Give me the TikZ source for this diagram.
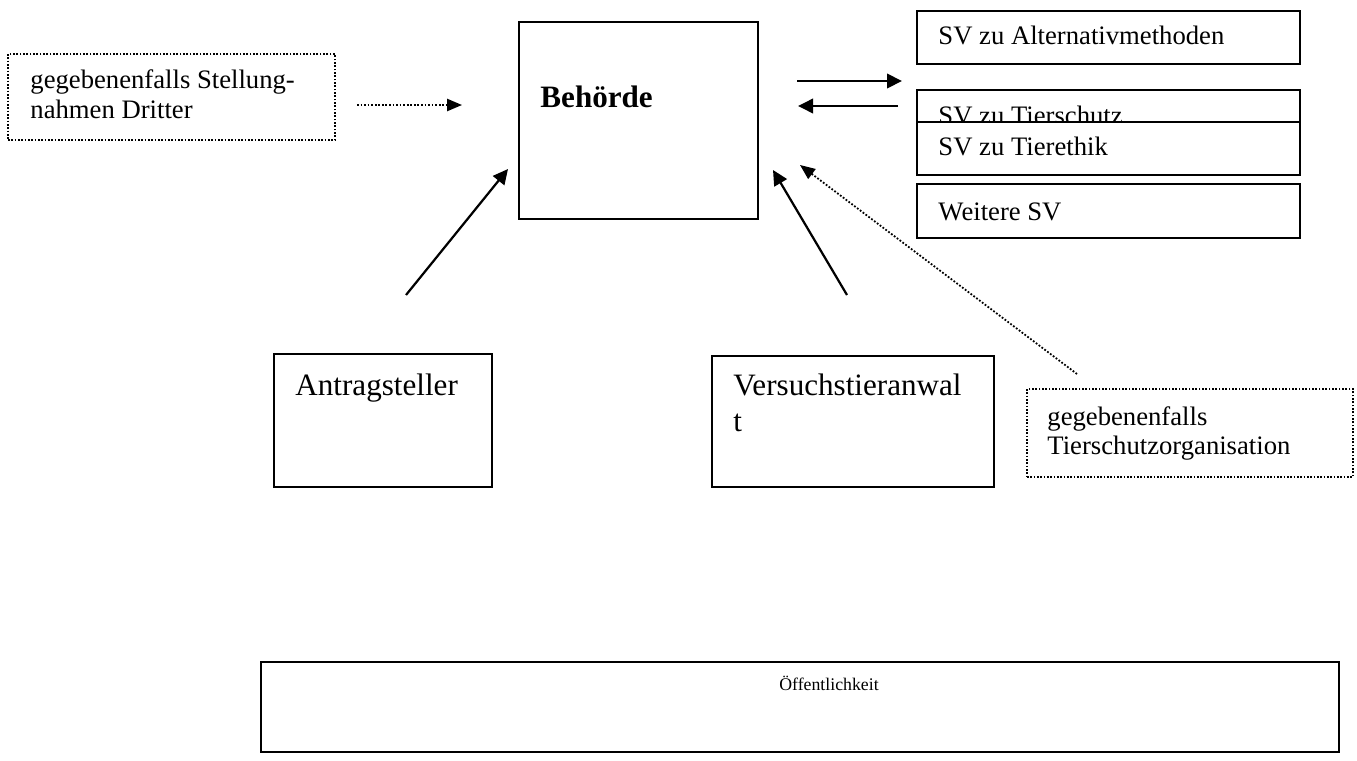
\documentclass[tikz,border=0pt]{standalone}
\usepackage{fontspec}
\setmainfont{Liberation Serif}
\usetikzlibrary{arrows.meta,fit}
\begin{document}
\begin{tikzpicture}[x=0.45pt,y=-0.45pt,
  box/.style={draw, line width=0.7pt, inner sep=0pt},
  dotbox/.style={draw, line width=0.75pt, dash pattern=on 0.75pt off 0.75pt, inner sep=0pt},
  txt/.style={anchor=base west, inner sep=0pt, font=\fontsize{12}{13.5}\selectfont},
  bigtxt/.style={anchor=base west, inner sep=0pt, font=\fontsize{14}{16.6}\selectfont},
  arr/.style={line width=1pt, -{Triangle[length=6.75pt,width=6.5pt]}},
  dotarr/.style={line width=0.8pt, dash pattern=on 0.8pt off 0.8pt, -{Triangle[length=6.75pt,width=5.5pt]}}]
\useasboundingbox (0,0) rectangle (1357,760);

% Stellungnahmen Dritter
\node[dotbox, fit={(8,54) (335,140)}] (stell) {};
\node[txt] (stelltxt) at (30,88) {\begin{tabular}[t]{@{}l@{}}gegebenenfalls Stellung-\\nahmen Dritter\end{tabular}};
\coordinate (stellA) at (357,105);
\coordinate (stellB) at (462,105);
\draw[dotarr] (stellA) -- (stellB);

% Behoerde
\node[box, fit={(519,22) (758,219)}] (beh) {};
\node[bigtxt, font=\fontsize{14}{16.6}\selectfont\bfseries] (behtxt) at (540,107) {Behörde};

% SV boxes
\node[box, fit={(917,11) (1300,64)}] (sv1) {};
\node[txt] (sv1txt) at (938,45) {SV zu Alternativmethoden};
\node[box, fit={(917,90) (1300,143)}] (sv2) {};
\node[txt] (sv2txt) at (938,124) {SV zu Tierschutz};
\node[box, fill=white, fit={(917,122) (1300,175)}] (sv3) {};
\node[txt] (sv3txt) at (938,155) {SV zu Tierethik};
\node[box, fit={(917,184) (1300,238)}] (sv4) {};
\node[txt] (sv4txt) at (938,220) {Weitere SV};

\coordinate (rA) at (797,81);
\coordinate (rB) at (902,81);
\coordinate (lA) at (898,106);
\coordinate (lB) at (798,106);
\draw[arr] (rA) -- (rB);
\draw[arr] (lA) -- (lB);

% Antragsteller
\node[box, fit={(274,354) (492,487)}] (antr) {};
\node[bigtxt] (antrtxt) at (295,395) {Antragsteller};
\coordinate (antrA) at (406,295);
\coordinate (antrB) at (508,169);
\draw[arr] (antrA) -- (antrB);

% Versuchstieranwalt
\node[box, fit={(712,356) (994,487)}] (vta) {};
\node[bigtxt] (vtatxt) at (733,395) {\fontsize{14}{16.6}\selectfont\begin{tabular}[t]{@{}l@{}}Versuchstieranwal\\t\end{tabular}};
\coordinate (vtaA) at (847,295);
\coordinate (vtaB) at (773,170);
\draw[arr] (vtaA) -- (vtaB);

% Tierschutzorganisation
\node[dotbox, fit={(1027,389) (1353,477)}] (tso) {};
\node[txt] (tsotxt) at (1047,425) {\fontsize{12}{13.1}\selectfont\begin{tabular}[t]{@{}l@{}}gegebenenfalls\\Tierschutzorganisation\end{tabular}};
\coordinate (tsoA) at (1077,374);
\coordinate (tsoB) at (800,165);
\draw[dotarr] (tsoA) -- (tsoB);

% Oeffentlichkeit
\node[box, line width=0.9pt, fit={(261,662) (1339,752)}] (oeff) {};
\node[anchor=base, inner sep=0pt, font=\fontsize{8}{9.6}\selectfont] (oefftxt) at (829,690) {Öffentlichkeit};
\end{tikzpicture}
\end{document}
